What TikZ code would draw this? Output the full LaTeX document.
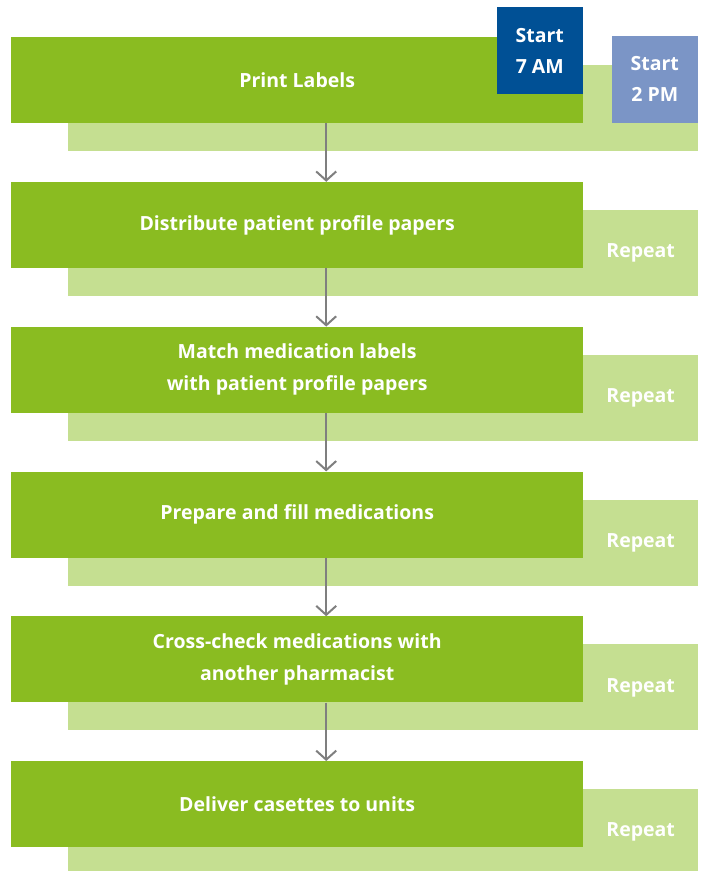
\documentclass[tikz,border=0pt]{standalone}
\usepackage{fontspec}
\setmainfont{Open Sans}
\usetikzlibrary{arrows.meta,positioning}
\definecolor{taskgreen}{HTML}{8ABC21}
\definecolor{backgreen}{HTML}{C5DF91}
\definecolor{amblue}{HTML}{005095}
\definecolor{pmblue}{HTML}{7B95C6}
\definecolor{flowgray}{HTML}{7F7F7F}

\begin{document}
\begin{tikzpicture}[x=1pt,y=-1pt,
    task/.style={fill=taskgreen, text=white, anchor=north west, inner sep=0pt,
      minimum width=572pt, minimum height=86pt, align=center,
      font=\bfseries\fontsize{19.5}{32}\selectfont},
    backbox/.style={fill=backgreen, anchor=north west, inner sep=0pt,
      minimum width=630pt, minimum height=86pt},
    again/.style={text=white, anchor=east, inner sep=0pt, minimum width=115pt,
      font=\bfseries\fontsize{19.5}{32}\selectfont},
    startbox/.style={text=white, inner sep=0pt, minimum width=86pt,
      minimum height=87pt, align=center,
      font=\bfseries\fontsize{19.5}{31}\selectfont},
    flow/.style={draw=flowgray, line width=2pt,
      -{Straight Barb[length=9pt,width=20pt,line width=2pt]}}]
  \useasboundingbox (0,0) rectangle (701,871);
  \foreach \i/\txt in {1/{Print Labels},
      2/{Distribute patient profile papers},
      3/{Match medication labels\\with patient profile papers},
      4/{Prepare and fill medications},
      5/{Cross-check medications with\\another pharmacist},
      6/{Deliver casettes to units}} {
    \node[backbox] (b\i) at (68, {65+144.8*(\i-1)}) {};
    \node[task] (t\i) at (11, {37+144.8*(\i-1)}) {\txt};
  }
  % repeat labels on the back boxes
  \foreach \i in {2,...,6}
    \node[again] (r\i) at (b\i.east) {Repeat};
  % start times
  \node[startbox, fill=amblue, anchor=north east] (am) at (583,7) {Start\\7 AM};
  \node[startbox, fill=pmblue, anchor=south east] (pm) at (698,123) {Start\\2 PM};
  \foreach \i [evaluate=\i as \j using int(\i+1)] in {1,...,5}
    \draw[flow] ([xshift=29pt]t\i.south) -- ([xshift=29pt]t\j.north);
\end{tikzpicture}
\end{document}
